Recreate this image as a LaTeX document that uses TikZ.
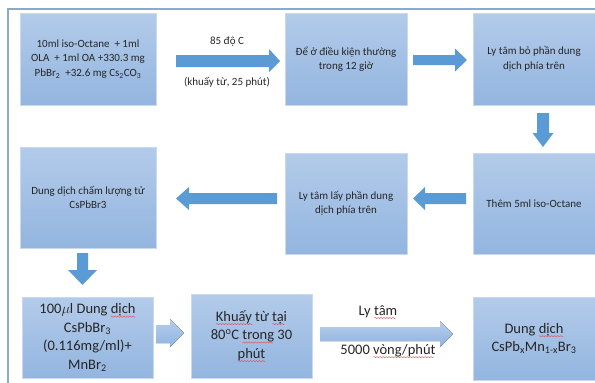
\documentclass[tikz,border=0pt]{standalone}
\usepackage{fontspec}
\setmainfont{Carlito}
\definecolor{boxtop}{HTML}{B3CBEA}
\definecolor{boxbot}{HTML}{93B5DF}
\definecolor{boxedge}{HTML}{C9DAF0}
\definecolor{arrdark}{HTML}{5B9BD5}
\definecolor{arrlt}{HTML}{B6CEEC}
\definecolor{arrltb}{HTML}{8FB3DF}
\definecolor{framec}{HTML}{8DA8C9}
\definecolor{txt}{HTML}{262626}
\definecolor{wavec}{HTML}{E0505A}
\newcount\rwn
\newcommand\rw[1]{\setbox0\hbox{#1}%
  \rwn=\wd0 \divide\rwn by 196608\relax
  \rlap{\begin{pgfpicture}\pgfsetbaseline{0pt}%
    \pgfsetlinewidth{0.45pt}\pgfsetstrokecolor{wavec}%
    \pgfpathmoveto{\pgfpoint{0pt}{-3pt}}%
    \loop\ifnum\rwn>0\relax
      \pgfpathsine{\pgfpoint{0.75pt}{0.55pt}}\pgfpathcosine{\pgfpoint{0.75pt}{-0.55pt}}%
      \pgfpathsine{\pgfpoint{0.75pt}{-0.55pt}}\pgfpathcosine{\pgfpoint{0.75pt}{0.55pt}}%
      \advance\rwn by -1\relax
    \repeat
    \pgfusepath{stroke}\end{pgfpicture}}\box0\relax}
\begin{document}
\begin{tikzpicture}[x=1pt,y=-1pt,
  stepbox/.style={top color=boxtop,bottom color=boxbot,draw=boxedge,line width=0.5pt,
    align=center,inner sep=2pt,text=txt,font=\fontsize{11}{14.5}\selectfont},
  bigbox/.style={stepbox,font=\fontsize{14.5}{18.5}\selectfont},
  lbl/.style={text=txt,font=\fontsize{11}{14}\selectfont,inner sep=1pt},
  biglbl/.style={text=txt,font=\fontsize{14.5}{18}\selectfont,inner sep=1pt},
  darkarrow/.style={fill=arrdark},
  lightarrow/.style={top color=arrlt,bottom color=arrltb}]
\useasboundingbox (0,0) rectangle (595,383);
\fill[white] (0,0) rectangle (595,383);
% frame
\draw[framec,line width=1.6pt] (8,383) -- (8,9) -- (595,9);
% boxes
\node[stepbox,minimum width=136,minimum height=92] (b1) at (88,59)
  {10ml iso-Octane\ \ + 1ml\\OLA\ \ + 1ml OA +330.3 mg\\PbBr\textsubscript{2}\ \ +32.6 mg Cs\textsubscript{2}CO\textsubscript{3}};
\node[stepbox,minimum width=122,minimum height=92] (b2) at (346,59)
  {Để ở điều kiện thường\\trong 12 giờ};
\node[stepbox,minimum width=122,minimum height=92] (b3) at (534,59)
  {Ly tâm bỏ phần dung\\dịch phía trên};
\node[stepbox,minimum width=122,minimum height=101] (b4) at (534,203.5)
  {Thêm 5ml iso-Octane};
\node[stepbox,minimum width=122,minimum height=101] (b5) at (346,203.5)
  {Ly tâm lấy phần dung\\dịch phía trên};
\node[stepbox,minimum width=136,minimum height=101] (b6) at (88,197.5)
  {Dung dịch chấm lượng tử\\CsPbBr3};
\node[bigbox,minimum width=131,minimum height=81] (b7) at (87.5,337.5)
  {100$\mu$l Dung \rw{dịch}\\CsPbBr\textsubscript{3}\\(0.116mg/ml)+\\MnBr\textsubscript{2}};
\node[bigbox,minimum width=121,minimum height=84] (b8) at (251.5,336)
  {\rw{Khuấy} từ \rw{tại}\\80\textsuperscript{o}C \rw{trong} 30\\\rw{phút}};
\node[bigbox,minimum width=122,minimum height=83] (b9) at (534,338.5)
  {Dung \rw{dịch}\\CsPb\textsubscript{x}Mn\textsubscript{1-x}Br\textsubscript{3}};
% labels
\node[lbl] (l1) at (227,42) {85 độ C};
\node[lbl] (l2) at (227,82) {(khuấy từ, 25 phút)};
\node[biglbl] (l3) at (378,312) {Ly \rw{tâm}};
\node[biglbl] (l4) at (388,351) {5000 \rw{vòng/phút}};
% block arrows
\fill[darkarrow] (176,55) -- (269,55) -- (269,49) -- (280,61) -- (269,72) -- (269,67) -- (176,67) -- cycle;
\fill[darkarrow] (413,55) -- (455,55) -- (455,48.5) -- (467,60) -- (455,71.5) -- (455,65) -- (413,65) -- cycle;
\fill[darkarrow] (537,113) -- (549,113) -- (549,133) -- (553.5,133) -- (543,147) -- (532.5,133) -- (537,133) -- cycle;
\fill[darkarrow] (466,193) -- (425,193) -- (425,187) -- (413,198.5) -- (425,210) -- (425,204) -- (466,204) -- cycle;
\fill[darkarrow] (277,193) -- (189,193) -- (189,187) -- (176,198.5) -- (189,210) -- (189,204) -- (277,204) -- cycle;
\fill[darkarrow] (77,253) -- (88,253) -- (88,270) -- (97,270) -- (82.5,285) -- (68,270) -- (77,270) -- cycle;
\fill[lightarrow] (156,325) -- (170,325) -- (170,319) -- (184,333) -- (170,347) -- (170,343) -- (156,343) -- cycle;
\fill[lightarrow] (320,327) -- (440,327) -- (440,321) -- (453,334) -- (440,347) -- (440,341) -- (320,341) -- cycle;
\end{tikzpicture}
\end{document}
